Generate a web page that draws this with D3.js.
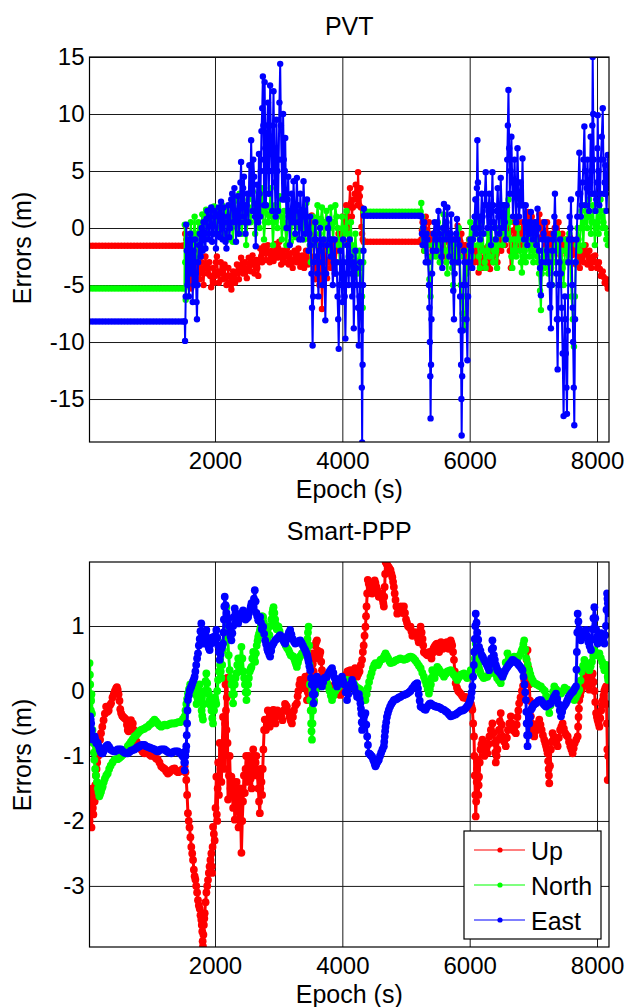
<!DOCTYPE html>
<html>
<head>
<meta charset="utf-8">
<script src="https://cdn.jsdelivr.net/npm/d3@7"></script>
<style>
body { margin: 0; background: #fff; }
text { font-family: "Liberation Sans", Arial, sans-serif; fill: #000; }
.axis text { font-size: 24px; }
.axis .domain { display: none; }
.axis line { stroke: #1a1a1a; stroke-width: 1; }
</style>
</head>
<body>
<div id="chart"></div>
<script>
// ---- data ----
var seriesNames = ["Up", "North", "East"];
var seriesColors = ["#ff0000", "#00ff00", "#0000ff"];

var xTicks = [2000, 4000, 6000, 8000];
var pvtYTicks = [-15, -10, -5, 0, 5, 10, 15];
var pppYTicks = [-3, -2, -1, 0, 1];

// epochs where the PVT solution is held constant
var holdEpochs1 = [29, 79, 129, 179, 229, 279, 329, 379, 429, 479, 529, 579, 629, 679, 729, 779, 829, 879, 929, 979,
    1029, 1079, 1129, 1179, 1229, 1279, 1329, 1379, 1429, 1479, 1520];
var holdEpochs2 = [4340, 4390, 4440, 4490, 4540, 4590, 4640, 4690, 4740, 4790, 4840, 4890, 4940, 4990, 5040, 5090,
    5140, 5190, 5230];

var pvtUpHold = [-1.55, -1.2];
var pvtNorthHold = [-5.3, 1.43];
var pvtEastHold = [-8.2, 1.08];

var pvtUp1 = [[1525,-1.5],[1532,-0.5],[1540,0.2],[1550,-1],[1560,-2],[1570,-3],[1580,-4],[1590,-2.5],[1600,-1.5],[1612,-3.5],[1625,-5.3],[1638,-4],[1650,-2.5],[1662,-1.5],[1675,-0.5],[1688,-2],[1700,-3.5],[1715,-2.5],[1730,-2],[1745,-3.5],[1760,-4.5],[1775,-3.8],[1790,-3],[1805,-4],[1820,-5],[1835,-3.5],[1850,-2.5],[1865,-3.2],[1880,-4],[1895,-3.5],[1910,-3],[1925,-4.2],[1940,-5.2],[1955,-4.2],[1970,-3.5],[1985,-4.8],[2000,-4.2],[2015,-3],[2030,-2.5],[2045,-3.8],[2060,-4.8],[2075,-4],[2090,-3.0],[2105,-3.8],[2120,-4.5],[2135,-3.5],[2150,-3.2],[2165,-4.2],[2180,-5.0],[2195,-4.2],[2210,-3.5],[2225,-4.8],[2240,-4.2],[2250,-5],[2257,-5.4],[2270,-4.5],[2285,-3.8],[2300,-4.2],[2315,-4.8],[2330,-4],[2345,-3.2],[2360,-3.8],[2375,-4.5],[2392,-3.5],[2410,-2.6],[2425,-3.2],[2440,-4.0],[2455,-3.6],[2470,-3.0],[2485,-3.8],[2500,-4.4],[2515,-3.5],[2530,-2.6],[2545,-3.2],[2560,-3.8],[2575,-3],[2590,-2.4],[2605,-3.2],[2620,-4.0],[2635,-3.4],[2650,-2.8],[2665,-3.5],[2680,-4.2],[2695,-3],[2710,-1.8],[2725,-2.5],[2740,-3.0],[2755,-2.2],[2770,-1.6],[2785,-2.2],[2800,-2.8],[2815,-2],[2830,-1.5],[2845,-2.2],[2860,-3.0],[2875,-2.5],[2890,-2.0],[2905,-2.5],[2920,-2.9],[2935,-2.2],[2950,-1.4],[2965,-2],[2980,-2.6],[2995,-1.8],[3010,-1.2],[3025,-2.2],[3040,-3.2],[3055,-2.6],[3070,-2.0],[3085,-2.5],[3100,-3.0],[3115,-2.4],[3130,-1.8],[3145,-2.5],[3160,-3.2],[3175,-2.7],[3190,-2.2],[3205,-2.8],[3220,-3.5],[3235,-2.8],[3250,-2.0],[3265,-2.5],[3280,-3.0],[3295,-2.4],[3310,-1.8],[3325,-2.6],[3340,-3.4],[3355,-2.9],[3370,-2.4],[3385,-3],[3400,-3.5],[3415,-2.8],[3430,-2.0],[3445,-2.6],[3460,-3.2],[3475,-2],[3490,-1],[3505,0],[3520,1.1],[3535,-0.5],[3550,-2.5],[3565,-3.5],[3580,-4.5],[3595,-3],[3610,-1.5],[3625,-3],[3640,-5],[3650,-3.5],[3660,-2],[3670,-4.5],[3680,-7.1],[3692,-5],[3705,-3],[3718,-2],[3730,-1.2],[3745,-2.8],[3760,-4.4],[3775,-3],[3790,-2],[3805,-2.8],[3820,-3.5],[3835,-2.3],[3850,-1.2],[3865,-2.5],[3880,-4],[3895,-3],[3910,-2],[3925,-1.2],[3940,-0.5],[3955,-1.2],[3970,-2],[3985,-0.5],[4000,1.0],[4015,0],[4030,-1.2],[4045,0.5],[4060,2.0],[4075,1],[4090,0],[4105,1.8],[4120,3.5],[4135,2.2],[4150,1.0],[4165,1.8],[4180,2.5],[4195,3],[4210,3.8],[4222,3],[4235,2],[4241,3.5],[4247,4.9],[4256,3.5],[4265,2],[4275,2.8],[4285,3.5],[4292,1.8],[4300,0.1],[4310,-0.5],[4320,-1],[4335,-1.2]];
var pvtUp2 = [[5240,-1.0],[5250,-0.2],[5260,0.5],[5272,-0.8],[5285,-2],[5298,-0.5],[5310,1.0],[5322,-0.2],[5335,-1.5],[5348,-0.5],[5360,0.5],[5375,-1],[5390,-2.5],[5405,-1.5],[5420,-0.5],[5435,-1.2],[5450,-2.0],[5465,-1],[5480,0],[5495,-0.8],[5510,-1.5],[5525,-2.2],[5540,-3],[5555,-2],[5570,-1],[5585,-1.8],[5600,-2.5],[5615,-1.2],[5630,0],[5645,-1],[5660,-2],[5675,-1.2],[5690,-0.5],[5705,-1.5],[5720,-2.5],[5735,-1.8],[5750,-1],[5765,-2],[5780,-3],[5795,-1.4],[5810,0.2],[5825,-0.9],[5840,-2],[5855,-1.2],[5870,-0.5],[5885,-1.5],[5900,-2.5],[5915,-2],[5930,-1.5],[5945,-2.5],[5960,-3.5],[5975,-2.2],[5990,-1],[6005,-1.8],[6020,-2.5],[6035,-1.8],[6050,-1.0],[6065,-2],[6080,-3.0],[6095,-2.3],[6110,-1.6],[6125,-2.8],[6140,-3.9],[6155,-3],[6170,-2.0],[6185,-2.8],[6200,-3.5],[6215,-2.6],[6230,-1.8],[6245,-2.5],[6260,-3.2],[6275,-2.4],[6290,-1.6],[6305,-2.6],[6320,-3.6],[6335,-2.8],[6350,-2.0],[6365,-2.5],[6380,-3.0],[6395,-2.3],[6410,-1.6],[6423,-2.3],[6436,-3.0],[6450,-1.5],[6465,0],[6480,-1],[6495,-2],[6510,-0.5],[6525,1.0],[6540,-0.2],[6555,-1.5],[6570,0.2],[6585,1.8],[6600,0.6],[6615,-0.5],[6630,-2],[6645,-3.5],[6660,-2.2],[6675,-1],[6690,-0.2],[6705,0.5],[6720,-0.8],[6735,-2],[6750,-0.5],[6765,1],[6780,-0.2],[6795,-1.5],[6810,-0.5],[6825,0.5],[6840,-1],[6855,-2.5],[6870,-1.5],[6885,-0.5],[6900,0.5],[6915,1.4],[6930,0.5],[6945,-0.5],[6960,0.2],[6975,1.0],[6990,-0.1],[7005,-1.2],[7020,-0.3],[7035,0.5],[7050,-0.2],[7065,-1],[7080,0.1],[7095,1.2],[7110,0.2],[7125,-0.8],[7140,-0.1],[7155,0.5],[7170,-0.5],[7185,-1.5],[7200,-0.5],[7215,0.5],[7230,-1],[7245,-2.4],[7260,-1.5],[7275,-0.5],[7290,-1.2],[7305,-2],[7320,-1],[7335,0],[7350,-0.9],[7365,-1.8],[7380,-0.6],[7395,0.5],[7410,-1],[7425,-2.4],[7440,-1.5],[7455,-0.5],[7470,-1.2],[7485,-2],[7500,-1.5],[7515,-1],[7530,-1.6],[7545,-2.2],[7560,-1.5],[7575,-0.8],[7590,-1.6],[7605,-2.4],[7622,-1.8],[7640,-1.2],[7655,-2.2],[7670,-3.2],[7685,-2.3],[7700,-1.5],[7715,-2.5],[7730,-3.5],[7745,-2.6],[7760,-1.8],[7775,-2.4],[7790,-3],[7805,-2.2],[7820,-1.5],[7835,-2.3],[7850,-3.2],[7865,-2.6],[7880,-2],[7895,-2.8],[7910,-3.5],[7925,-3],[7940,-2.5],[7955,-3],[7970,-2.4],[7985,-3],[8000,-3.5],[8015,-3.2],[8030,-3.0],[8045,-3.6],[8060,-4.2],[8075,-4],[8090,-3.8],[8105,-4.3],[8120,-4.8],[8135,-4.6],[8150,-4.5],[8160,-5],[8170,-5.3]];

var pvtNorth1 = [[1525,0.3],[1533,-3],[1540,-6.3],[1550,-3],[1560,-1],[1575,-2.5],[1590,-4],[1605,-1.5],[1620,0.5],[1635,-1],[1650,-3],[1665,-0.5],[1680,1.0],[1695,-1],[1710,-2.5],[1725,-0.5],[1740,0.5],[1755,-0.5],[1770,-1.5],[1785,0],[1800,1.2],[1815,0.5],[1830,-0.5],[1845,0.5],[1860,1.6],[1875,0.8],[1890,-0.5],[1905,0.5],[1920,1.5],[1935,1.0],[1950,0.2],[1968,1.2],[1985,1.9],[2000,0.5],[2015,-0.5],[2030,0.8],[2045,1.7],[2062,0.8],[2080,0],[2095,1.2],[2110,2.0],[2125,0.8],[2140,-0.5],[2158,0.5],[2175,1.5],[2192,0.5],[2210,-1],[2228,0.8],[2245,2.0],[2262,0.5],[2280,-1.2],[2298,1],[2315,2.4],[2332,1.2],[2350,0],[2368,1.5],[2385,3.0],[2402,1.5],[2420,-0.5],[2438,0.8],[2455,2.0],[2472,0.5],[2490,-1.5],[2508,0.5],[2525,2.5],[2542,1.5],[2560,0.5],[2578,1.8],[2595,3.2],[2612,1.5],[2630,-0.5],[2648,0.8],[2665,2],[2682,1],[2700,0],[2718,1.5],[2735,3.5],[2752,1.5],[2770,-1],[2788,0.5],[2805,2],[2822,1.2],[2840,0.5],[2858,1.8],[2875,3.5],[2892,1],[2910,-1.5],[2928,0.5],[2945,2],[2962,1],[2980,0],[2998,1.2],[3015,2.8],[3032,1],[3050,-1.0],[3068,0.5],[3085,1.5],[3102,0],[3120,-1.5],[3138,0],[3155,1],[3172,0],[3190,-1.2],[3208,0.5],[3225,1.5],[3242,0.5],[3260,-0.8],[3278,0.5],[3295,2],[3312,1],[3330,0],[3348,0.8],[3365,1.5],[3382,0.5],[3400,-1],[3418,0.8],[3435,2.2],[3452,1],[3470,0],[3488,-1.5],[3505,-3],[3522,-1],[3540,1],[3558,0],[3575,-1.5],[3592,0.5],[3610,2.0],[3628,0.8],[3645,-0.5],[3662,0.8],[3680,1.8],[3698,0.5],[3715,-1],[3732,0.5],[3750,1.5],[3768,0],[3785,-2],[3802,0],[3820,1.8],[3838,0.5],[3855,-1],[3872,0.5],[3890,2],[3908,1],[3925,0],[3942,-1.5],[3960,-3],[3978,-1],[3995,1],[4012,0],[4030,-1.5],[4048,0],[4065,1.5],[4082,-0.5],[4100,-2.5],[4118,-1],[4135,0.5],[4152,-1.5],[4170,-3.5],[4188,-2],[4205,-0.5],[4222,-2],[4240,-4],[4255,-3],[4270,-2],[4285,-3.5],[4300,-5],[4310,-6],[4320,-7],[4328,-3],[4335,1.4]];
var pvtNorth2 = [[5240,2.2],[5252,1],[5265,0],[5278,-1],[5290,-2],[5305,-1],[5320,-0.5],[5335,-1.5],[5350,-3],[5368,-4.5],[5385,-6],[5398,-4],[5410,-2.5],[5425,-1.5],[5440,-0.5],[5455,-1.5],[5470,-2.5],[5485,-1],[5500,0.5],[5515,-1.5],[5530,-3],[5545,-2],[5560,-1],[5575,0],[5590,1.2],[5605,-0.5],[5620,-2],[5635,-3],[5650,-4],[5665,-2],[5680,-0.5],[5695,-1.5],[5710,-2.5],[5725,-3.5],[5740,-5],[5755,-3],[5770,-1.5],[5785,-2],[5800,-3],[5815,-1.5],[5830,0],[5845,-2.5],[5860,-5],[5875,-6],[5890,-7.5],[5905,-8],[5921,-8.9],[5935,-6],[5950,-4],[5965,-3],[5980,-2],[5995,-1],[6010,0.5],[6025,-1],[6040,-2.5],[6055,-1.5],[6070,-0.5],[6085,1],[6100,2.5],[6115,0.5],[6130,-1.5],[6145,-2.5],[6160,-3.5],[6175,-1.5],[6190,0.5],[6205,-0.5],[6220,-2],[6235,-3],[6250,-3.5],[6265,-2],[6280,-0.5],[6295,-1.5],[6310,-2.5],[6325,-1],[6340,0.5],[6355,-1.5],[6370,-3],[6385,-2],[6400,-1],[6415,-2],[6430,-3.5],[6445,-1.5],[6460,0],[6475,1],[6490,1.5],[6505,0],[6520,-1.5],[6535,0.5],[6550,2.0],[6565,0.5],[6580,-0.5],[6595,1],[6610,2.5],[6625,0.5],[6640,-1],[6655,-2.5],[6670,-3.5],[6685,-2],[6700,-1],[6715,-2],[6730,-2.5],[6745,-1],[6760,0],[6775,-1],[6790,-2],[6805,-3],[6820,-3.9],[6835,-2.5],[6850,-1],[6865,-2],[6880,-3],[6895,-1.5],[6910,-0.5],[6925,-1.5],[6940,-2.5],[6955,-1.5],[6970,-1],[6985,-2],[7000,-3],[7015,-2],[7030,-1],[7045,-1.5],[7060,-2.5],[7075,-3],[7090,-4],[7105,-5.5],[7119,-7.2],[7132,-4],[7145,-2],[7160,-2.5],[7175,-3.5],[7190,-2],[7205,-1],[7220,-2.5],[7235,-4],[7250,-3],[7265,-2],[7280,-3.5],[7295,-5],[7310,-3],[7325,-1],[7340,-2],[7355,-3],[7370,-1.5],[7385,-0.5],[7400,-2],[7415,-4],[7430,-3],[7445,-2],[7460,-3.5],[7475,-5],[7490,-3],[7505,-1],[7520,-2],[7535,-3],[7550,-1.5],[7565,-0.5],[7582,-3],[7600,-6],[7620,-8],[7638,-10.4],[7652,-6],[7665,-3],[7680,-1.5],[7695,0],[7710,-1],[7725,-2],[7740,0],[7755,1.5],[7770,0],[7785,-1.5],[7800,0.5],[7815,2],[7830,1],[7845,0],[7860,1],[7875,2.5],[7890,1],[7905,-0.5],[7920,0.5],[7935,2],[7950,0.5],[7965,-1.5],[7980,0],[7995,1.5],[8010,0.5],[8025,-0.5],[8040,1],[8055,2.5],[8070,1],[8085,0],[8100,0.5],[8115,1.5],[8130,0],[8145,-1],[8158,-0.5],[8170,-1.5]];

var pvtEast1 = [[1525,-8.2],[1530,-9.9],[1540,-6],[1548,0.3],[1558,-2],[1568,-5],[1578,-1],[1590,-6],[1600,-3],[1612,-0.5],[1625,-4],[1638,-1],[1650,-6.5],[1662,-2],[1675,-5],[1688,-1],[1700,-4],[1710,-6.5],[1717,-8.0],[1726,-5],[1735,-3],[1748,-1.5],[1760,-0.5],[1775,-2.5],[1790,0],[1805,-2],[1820,0.5],[1835,-1],[1850,-1.8],[1865,0.8],[1880,1.5],[1895,-0.5],[1910,-1],[1925,1],[1940,1.8],[1955,-1.2],[1970,-0.5],[1985,1.5],[2000,1.0],[2015,-1.8],[2030,-0.5],[2045,1.2],[2060,1.8],[2078,-0.8],[2095,2.3],[2108,0],[2120,-1.0],[2135,1.8],[2150,0.5],[2165,-1.2],[2180,-1.8],[2195,1],[2210,2.0],[2225,-0.8],[2240,0],[2255,2.5],[2270,3.0],[2288,0.5],[2305,3.5],[2318,1],[2330,-1.2],[2345,1.5],[2360,2.8],[2375,-0.5],[2390,0.5],[2400,4],[2410,5.8],[2420,2],[2430,1],[2442,3.5],[2455,4.5],[2468,0.5],[2480,-0.5],[2495,2],[2510,3],[2525,0.5],[2540,5.5],[2555,3],[2568,7.7],[2580,4],[2590,1.5],[2602,6],[2615,4.5],[2628,1],[2640,-1.6],[2652,2],[2665,3.8],[2678,0.5],[2690,6.5],[2700,3],[2710,1],[2720,5],[2730,8.5],[2742,10.5],[2752,13.3],[2760,9],[2765,6],[2772,2],[2780,12.8],[2790,7],[2800,2],[2810,5],[2820,9],[2832,11],[2845,3],[2855,7],[2866,12.5],[2878,8],[2890,5],[2900,1.5],[2910,9],[2919,12],[2930,7],[2940,4],[2952,1],[2965,9.5],[2978,5],[2990,1.5],[3000,6],[3012,11],[3024,14.4],[3035,9],[3045,6],[3058,2.5],[3070,10],[3080,6],[3090,2.5],[3097,5],[3103,7.9],[3114,3],[3125,0],[3138,2.5],[3150,4.5],[3162,1],[3175,-1.5],[3190,1.5],[3205,3],[3220,0.5],[3234,4.1],[3248,1.5],[3260,-0.5],[3273,2],[3286,4.4],[3298,2],[3310,0.5],[3325,-1],[3340,3],[3352,1.5],[3365,-1],[3378,1],[3391,4.1],[3405,1.5],[3420,-0.5],[3432,1],[3445,2.5],[3458,0],[3470,-2],[3482,-0.5],[3495,1],[3505,-1.5],[3515,-4],[3524,-7],[3533,-10.3],[3542,-6],[3550,-3],[3562,-1],[3575,0.5],[3588,-1],[3600,-2.5],[3612,-4],[3625,-6],[3638,-2],[3650,0],[3665,-1.5],[3680,-3],[3692,-5],[3705,-1],[3720,-4],[3733,-8.1],[3746,-4],[3760,-1.5],[3775,0],[3790,0.8],[3805,-1],[3820,-2.5],[3835,-1],[3850,-5],[3865,-3],[3880,-1],[3895,-4],[3910,-3],[3925,-6],[3935,-8],[3943,-10.6],[3955,-5],[3970,-2],[3985,-4],[4000,-6.5],[4012,-1],[4025,-3],[4037,-6],[4048,-9.7],[4062,-4],[4075,-1.5],[4088,-3],[4100,-5],[4115,-1],[4130,-2.5],[4142,-4],[4155,-6],[4168,-3],[4180,-8.8],[4192,-5],[4205,-2],[4218,-3.5],[4230,-5],[4245,-7],[4259,-10.3],[4270,-6],[4280,-3],[4290,-6],[4300,-9],[4306,-14],[4311,-18.8],[4318,-12],[4325,-5],[4332,-2],[4338,1.7]];
var pvtEast2 = [[5240,1.0],[5250,-0.5],[5260,-1.5],[5272,0],[5285,0.5],[5298,-1.5],[5310,-3],[5322,-0.5],[5335,-1],[5348,-3],[5360,-5],[5368,-7],[5375,-10],[5381,-13],[5386,-16.7],[5393,-12],[5400,-8],[5410,-4],[5420,-2],[5435,-0.5],[5450,0.5],[5465,-1],[5480,-2],[5495,0],[5510,1.5],[5525,-0.5],[5540,-1],[5555,-2.5],[5570,-3.5],[5583,0],[5596,2.1],[5608,0],[5620,-1],[5635,0.5],[5650,1.8],[5665,-0.5],[5680,-2.5],[5695,-0.5],[5710,1.2],[5720,-1],[5730,-3],[5742,-5.5],[5753,-8.0],[5764,-4],[5775,-1],[5788,-0.5],[5800,0.8],[5812,-1],[5825,-3],[5838,-1.5],[5850,-6],[5858,-9],[5865,-12],[5870,-15],[5874,-18.2],[5882,-13],[5890,-9],[5900,-5],[5910,-2],[5922,-3],[5935,-5],[5950,-8],[5964,-11.6],[5975,-6],[5985,-3],[5998,-1.5],[6010,-1],[6025,-2],[6040,-3.5],[6052,-1],[6065,0],[6078,1],[6090,2.5],[6098,1],[6105,-0.5],[6113,3.5],[6121,7.7],[6130,4],[6140,1],[6152,0],[6165,-1],[6178,1],[6190,3],[6202,1],[6215,-0.5],[6232,2],[6252,4.9],[6265,2],[6280,0],[6295,1.5],[6310,3],[6322,0.5],[6335,-1.5],[6346,2],[6357,4.9],[6368,2],[6380,0.5],[6395,0],[6410,-1],[6425,1.5],[6440,3.5],[6452,1],[6465,-0.5],[6476,2],[6488,4.4],[6500,2],[6510,0],[6525,1],[6540,2],[6552,0.5],[6565,-1],[6578,2],[6590,6],[6600,9],[6609,12.1],[6620,7],[6630,3],[6642,5],[6655,8],[6668,4],[6680,1],[6692,3],[6705,6],[6718,3],[6730,0.5],[6740,3],[6751,7.0],[6762,4],[6775,1],[6788,2],[6800,4],[6815,2],[6830,6.1],[6842,2],[6855,-1],[6868,0.5],[6880,2],[6892,0],[6905,-1.5],[6920,-0.5],[6935,0.5],[6948,-0.5],[6961,1.4],[6975,0],[6990,-1],[7005,0],[7020,0.5],[7032,-0.5],[7045,-1.5],[7055,0],[7066,1.7],[7078,0],[7090,-2],[7105,-3.5],[7119,-5.9],[7132,-3],[7145,-1],[7160,-0.5],[7175,0.5],[7188,-1],[7200,-3],[7215,-2],[7230,-1],[7242,-3],[7255,-5],[7266,-7],[7276,-8.8],[7288,-5],[7300,-2],[7310,-1],[7320,-0.5],[7330,1],[7339,3.0],[7350,0],[7360,-4],[7370,-8],[7381,-12.4],[7390,-8],[7400,-5],[7410,-3],[7420,-1],[7432,-4],[7445,-7],[7460,-11],[7475,-16.5],[7485,-11],[7495,-6],[7502,-8],[7510,-11],[7520,-14],[7528,-16.3],[7540,-9],[7550,-3],[7560,-1],[7570,1],[7580,0],[7591,2.5],[7600,-1],[7610,-5],[7618,-7],[7625,-10],[7635,-14],[7643,-17.3],[7655,-8],[7665,-3],[7678,-1],[7690,1],[7705,3],[7722,6.6],[7735,3],[7745,1],[7760,2],[7775,4],[7788,6],[7801,8.9],[7812,5],[7825,2],[7838,3.5],[7850,6],[7862,3.5],[7875,1.5],[7888,4],[7900,8],[7910,5],[7920,3],[7926,9],[7932,15],[7940,10],[7950,6],[7962,3],[7975,1.5],[7988,2.5],[8000,4],[8006,7],[8011,9.9],[8022,5],[8035,2],[8048,3],[8060,6],[8075,8],[8090,10.5],[8100,6],[8110,3],[8120,4],[8130,5.5],[8140,3],[8150,1.5],[8160,3.5],[8168,6.4],[8175,4]];

var pppUp = [[30,-2.0],[38,-1.8],[45,-1.6],[52,-1.9],[60,-2.1],[68,-1.7],[75,-1.5],[82,-1.8],[90,-1.9],[100,-1.6],[110,-1.7],[120,-1.45],[130,-1.3],[140,-1.2],[150,-1.1],[165,-1.0],[180,-0.9],[195,-0.75],[210,-0.65],[230,-0.55],[250,-0.45],[270,-0.35],[290,-0.24],[310,-0.32],[330,-0.3],[350,-0.22],[368,-0.19],[390,-0.1],[410,-0.05],[428,0.0],[446,0.04],[460,0.06],[472,0.02],[486,-0.05],[500,-0.15],[512,-0.28],[525,-0.34],[542,-0.38],[560,-0.4],[582,-0.42],[604,-0.44],[617,-0.52],[630,-0.6],[643,-0.62],[656,-0.57],[668,-0.48],[680,-0.45],[695,-0.52],[709,-0.5],[730,-0.6],[750,-0.7],[770,-0.78],[788,-0.85],[815,-0.88],[840,-0.9],[866,-0.94],[893,-0.96],[920,-0.92],[950,-0.95],[975,-0.98],[1000,-1.0],[1025,-0.98],[1050,-1.01],[1075,-1.04],[1100,-1.05],[1128,-1.1],[1155,-1.16],[1182,-1.18],[1210,-1.2],[1235,-1.24],[1260,-1.27],[1285,-1.25],[1310,-1.22],[1338,-1.2],[1365,-1.19],[1392,-1.23],[1420,-1.25],[1445,-1.24],[1470,-1.22],[1497,-1.2],[1523,-1.16],[1536,-1.25],[1549,-1.37],[1562,-1.6],[1575,-1.88],[1588,-2.0],[1600,-2.1],[1614,-2.25],[1628,-2.4],[1642,-2.5],[1655,-2.6],[1668,-2.75],[1680,-2.85],[1692,-2.9],[1705,-3.0],[1719,-3.1],[1733,-3.22],[1746,-3.3],[1760,-3.35],[1772,-3.45],[1785,-3.52],[1792,-3.6],[1800,-3.7],[1806,-3.85],[1811,-3.93],[1818,-3.75],[1825,-3.6],[1832,-3.5],[1838,-3.42],[1852,-3.25],[1865,-3.1],[1878,-3.0],[1890,-2.91],[1903,-2.8],[1915,-2.7],[1929,-2.6],[1943,-2.5],[1949,-2.7],[1955,-2.8],[1962,-2.4],[1969,-2.09],[1982,-2.2],[1995,-2.3],[2008,-1.8],[2021,-1.32],[2028,-1.9],[2035,-2.0],[2042,-1.5],[2050,-1.1],[2062,-1.6],[2074,-0.8],[2087,-1.2],[2100,-1.4],[2113,-0.9],[2126,-0.4],[2138,-0.8],[2150,-1.2],[2158,-0.5],[2165,0.1],[2172,-0.3],[2180,-0.6],[2185,-0.1],[2190,0.2],[2197,-0.8],[2205,-1.67],[2218,-1.3],[2230,-1.0],[2244,-1.5],[2258,-1.32],[2272,-1.6],[2285,-1.8],[2298,-1.4],[2310,-1.98],[2325,-1.6],[2340,-1.4],[2355,-1.8],[2370,-2.1],[2382,-1.7],[2395,-1.5],[2405,-2.0],[2415,-2.49],[2428,-2.0],[2440,-1.7],[2454,-1.3],[2468,-1.57],[2480,-1.2],[2490,-1.0],[2505,-1.3],[2520,-1.4],[2533,-1.0],[2546,-1.16],[2560,-1.35],[2575,-1.5],[2588,-1.1],[2600,-0.9],[2612,-1.2],[2625,-1.3],[2638,-1.1],[2650,-1.0],[2665,-1.3],[2680,-1.5],[2692,-1.7],[2704,-1.88],[2712,-1.5],[2720,-1.2],[2730,-1.4],[2740,-1.6],[2750,-1.2],[2760,-0.9],[2771,-0.6],[2782,-0.44],[2800,-0.6],[2815,-0.45],[2830,-0.3],[2845,-0.45],[2860,-0.55],[2875,-0.42],[2890,-0.35],[2905,-0.3],[2919,-0.29],[2935,-0.42],[2950,-0.5],[2965,-0.38],[2980,-0.3],[3002,-0.36],[3024,-0.34],[3042,-0.4],[3060,-0.45],[3080,-0.3],[3100,-0.2],[3115,-0.22],[3129,-0.24],[3150,-0.32],[3170,-0.4],[3190,-0.46],[3208,-0.5],[3224,-0.4],[3240,-0.3],[3263,-0.22],[3286,-0.19],[3298,-0.08],[3310,0.0],[3325,0.1],[3339,0.17],[3360,0.1],[3380,0.05],[3400,0.15],[3418,0.22],[3431,0.05],[3444,-0.14],[3457,-0.02],[3470,0.1],[3485,0.25],[3500,0.4],[3512,0.5],[3523,0.58],[3536,0.42],[3550,0.3],[3562,0.5],[3575,0.7],[3588,0.75],[3601,0.78],[3615,0.62],[3630,0.5],[3642,0.55],[3655,0.6],[3668,0.45],[3680,0.32],[3700,0.25],[3720,0.2],[3740,0.15],[3759,0.12],[3780,0.08],[3800,0.05],[3820,0.02],[3840,0.0],[3860,0.05],[3880,0.1],[3898,0.03],[3917,-0.04],[3943,-0.05],[3969,-0.06],[3985,0.02],[4000,0.1],[4020,0.15],[4040,0.2],[4060,0.25],[4080,0.3],[4103,0.31],[4127,0.32],[4148,0.28],[4170,0.25],[4185,0.3],[4200,0.35],[4215,0.28],[4231,0.22],[4250,0.26],[4270,0.3],[4290,0.4],[4310,0.48],[4322,0.6],[4335,0.7],[4349,0.85],[4363,0.99],[4372,1.15],[4380,1.3],[4390,1.5],[4400,1.71],[4415,1.65],[4430,1.6],[4449,1.55],[4468,1.5],[4482,1.58],[4495,1.65],[4508,1.7],[4520,1.66],[4535,1.6],[4550,1.55],[4562,1.5],[4573,1.45],[4592,1.48],[4610,1.5],[4622,1.45],[4635,1.4],[4644,1.35],[4652,1.3],[4658,1.45],[4665,1.6],[4672,1.8],[4678,1.99],[4689,1.97],[4700,1.95],[4715,1.92],[4730,1.9],[4744,1.88],[4757,1.86],[4771,1.8],[4785,1.75],[4797,1.68],[4809,1.6],[4822,1.5],[4835,1.4],[4849,1.3],[4862,1.19],[4876,1.22],[4890,1.25],[4905,1.28],[4920,1.3],[4933,1.25],[4945,1.2],[4956,1.25],[4967,1.3],[4984,1.2],[5000,1.1],[5015,1.05],[5030,1.0],[5050,0.98],[5071,0.99],[5085,0.92],[5100,0.85],[5120,0.88],[5140,0.9],[5158,0.9],[5176,0.89],[5188,0.8],[5200,0.75],[5215,0.88],[5229,0.99],[5245,0.9],[5260,0.8],[5270,0.7],[5280,0.6],[5294,0.59],[5308,0.58],[5324,0.56],[5340,0.55],[5355,0.58],[5370,0.6],[5385,0.55],[5400,0.5],[5415,0.58],[5430,0.65],[5445,0.68],[5460,0.7],[5476,0.72],[5491,0.73],[5505,0.66],[5520,0.6],[5535,0.68],[5550,0.75],[5565,0.7],[5580,0.65],[5595,0.68],[5610,0.7],[5625,0.72],[5640,0.75],[5655,0.7],[5670,0.65],[5686,0.72],[5701,0.78],[5713,0.74],[5725,0.7],[5739,0.6],[5753,0.48],[5766,0.3],[5780,0.12],[5800,0.05],[5820,0.0],[5839,-0.02],[5858,-0.04],[5879,-0.07],[5900,-0.1],[5918,-0.1],[5937,-0.09],[5963,-0.12],[5990,-0.14],[6005,-0.17],[6020,-0.2],[6031,-0.25],[6042,-0.29],[6055,-0.5],[6068,-0.7],[6074,-1.0],[6080,-1.3],[6088,-1.6],[6095,-1.93],[6102,-1.7],[6110,-1.4],[6115,-1.2],[6121,-1.06],[6128,-1.35],[6135,-1.6],[6141,-1.45],[6147,-1.32],[6158,-1.1],[6170,-0.9],[6185,-0.82],[6200,-0.75],[6215,-0.88],[6230,-1.0],[6240,-0.9],[6250,-0.8],[6264,-0.88],[6278,-0.96],[6294,-0.82],[6310,-0.7],[6333,-0.6],[6357,-0.5],[6374,-0.65],[6390,-0.8],[6400,-0.95],[6410,-1.1],[6423,-1.0],[6436,-0.9],[6448,-0.75],[6460,-0.6],[6474,-0.47],[6488,-0.34],[6504,-0.52],[6520,-0.7],[6543,-0.78],[6567,-0.85],[6584,-0.72],[6600,-0.6],[6623,-0.5],[6646,-0.39],[6663,-0.5],[6680,-0.6],[6702,-0.62],[6725,-0.65],[6738,-0.52],[6750,-0.4],[6764,-0.3],[6777,-0.19],[6799,-0.1],[6820,0.0],[6838,0.08],[6856,0.17],[6868,0.24],[6880,0.3],[6895,0.48],[6909,0.63],[6922,0.35],[6935,0.1],[6948,-0.15],[6961,-0.39],[6976,-0.5],[6990,-0.6],[7002,-0.65],[7014,-0.7],[7032,-0.62],[7050,-0.55],[7072,-0.5],[7093,-0.44],[7112,-0.52],[7130,-0.6],[7150,-0.68],[7171,-0.75],[7186,-0.8],[7200,-0.85],[7212,-0.9],[7224,-0.96],[7232,-1.08],[7240,-1.2],[7245,-1.3],[7250,-1.42],[7262,-1.15],[7275,-0.9],[7288,-0.78],[7302,-0.65],[7321,-0.7],[7340,-0.75],[7360,-0.8],[7381,-0.85],[7400,-0.72],[7420,-0.6],[7440,-0.55],[7460,-0.5],[7480,-0.58],[7500,-0.65],[7520,-0.68],[7539,-0.7],[7560,-0.78],[7580,-0.85],[7598,-0.9],[7617,-0.96],[7633,-0.88],[7650,-0.8],[7673,-0.75],[7696,-0.7],[7703,-0.55],[7710,-0.4],[7716,-0.27],[7722,-0.14],[7736,-0.07],[7750,0.0],[7762,0.04],[7775,0.07],[7788,0.14],[7800,0.2],[7814,0.26],[7827,0.32],[7841,0.24],[7855,0.15],[7868,0.08],[7880,0.02],[7893,0.11],[7905,0.2],[7918,0.24],[7932,0.27],[7946,0.14],[7960,0.0],[7972,-0.17],[7985,-0.34],[7998,-0.4],[8010,-0.45],[8024,-0.5],[8037,-0.55],[8051,-0.42],[8065,-0.3],[8078,-0.22],[8090,-0.14],[8102,-0.07],[8115,0.0],[8128,0.04],[8142,0.07],[8149,-0.2],[8155,-0.5],[8162,-0.9],[8168,-1.37],[8175,-1.0]];

var pppNorth = [[30,0.43],[35,0.25],[40,0.1],[45,-0.1],[50,-0.3],[55,-0.15],[60,-0.05],[68,-0.35],[75,-0.6],[82,-0.7],[90,-0.8],[98,-0.95],[105,-1.06],[118,-1.2],[130,-1.3],[145,-1.4],[160,-1.5],[172,-1.56],[184,-1.62],[197,-1.58],[210,-1.55],[223,-1.5],[236,-1.47],[253,-1.4],[270,-1.35],[292,-1.3],[315,-1.27],[338,-1.2],[360,-1.15],[390,-1.1],[420,-1.06],[445,-1.05],[470,-1.05],[498,-1.03],[525,-1.01],[552,-0.98],[580,-0.95],[605,-0.9],[630,-0.85],[655,-0.82],[680,-0.78],[708,-0.74],[735,-0.7],[762,-0.68],[790,-0.65],[815,-0.62],[840,-0.6],[865,-0.59],[890,-0.58],[918,-0.56],[945,-0.55],[972,-0.52],[1000,-0.5],[1025,-0.47],[1050,-0.44],[1075,-0.47],[1100,-0.5],[1128,-0.53],[1155,-0.55],[1182,-0.53],[1210,-0.52],[1235,-0.53],[1260,-0.52],[1285,-0.51],[1310,-0.5],[1338,-0.5],[1365,-0.5],[1392,-0.49],[1420,-0.48],[1445,-0.48],[1470,-0.47],[1497,-0.43],[1523,-0.39],[1537,-0.3],[1550,-0.2],[1562,-0.12],[1575,-0.04],[1592,0.03],[1610,0.1],[1628,0.05],[1645,0.0],[1662,0.1],[1680,0.07],[1695,-0.05],[1710,-0.2],[1722,-0.1],[1733,-0.14],[1746,0.0],[1760,0.1],[1775,-0.1],[1790,-0.3],[1800,-0.38],[1811,-0.44],[1825,-0.2],[1840,0.0],[1852,0.15],[1864,0.27],[1877,0.12],[1890,0.0],[1903,-0.05],[1916,-0.14],[1930,-0.22],[1945,-0.3],[1957,-0.42],[1969,-0.5],[1985,-0.3],[2000,-0.1],[2010,-0.15],[2020,-0.2],[2034,0.0],[2048,0.17],[2064,0.3],[2080,0.4],[2090,0.3],[2100,0.2],[2113,0.4],[2126,0.63],[2138,0.75],[2150,0.9],[2165,1.1],[2179,1.29],[2190,1.0],[2200,0.8],[2215,0.55],[2231,0.32],[2245,0.2],[2260,0.1],[2272,-0.05],[2284,-0.19],[2297,-0.05],[2310,0.1],[2323,0.2],[2336,0.27],[2350,0.4],[2365,0.5],[2378,0.4],[2390,0.3],[2402,0.5],[2415,0.68],[2430,0.5],[2445,0.3],[2458,0.2],[2470,0.1],[2482,-0.02],[2494,-0.14],[2507,-0.02],[2520,0.1],[2532,0.2],[2545,0.3],[2559,0.34],[2573,0.37],[2586,0.5],[2600,0.6],[2615,0.52],[2630,0.45],[2642,0.58],[2655,0.7],[2667,0.77],[2678,0.83],[2690,0.87],[2700,0.9],[2710,0.95],[2720,1.0],[2730,1.08],[2740,1.15],[2748,1.12],[2756,1.14],[2768,1.05],[2780,0.99],[2790,0.92],[2800,0.85],[2810,0.82],[2820,0.8],[2830,0.76],[2840,0.73],[2855,0.86],[2870,1.0],[2885,1.1],[2900,1.2],[2910,1.25],[2919,1.29],[2932,1.2],[2945,1.1],[2958,1.02],[2970,0.95],[2985,0.97],[2998,0.99],[3014,0.92],[3030,0.85],[3045,0.82],[3060,0.8],[3069,0.79],[3077,0.78],[3094,0.74],[3110,0.7],[3132,0.66],[3155,0.63],[3172,0.59],[3190,0.55],[3212,0.54],[3234,0.53],[3247,0.49],[3260,0.45],[3273,0.41],[3286,0.37],[3303,0.44],[3320,0.5],[3342,0.54],[3365,0.58],[3382,0.59],[3400,0.6],[3422,0.64],[3444,0.68],[3452,0.8],[3460,0.9],[3470,0.99],[3478,0.7],[3485,0.4],[3490,0.1],[3496,-0.14],[3503,-0.3],[3510,-0.5],[3516,-0.62],[3523,-0.75],[3531,-0.5],[3540,-0.3],[3558,-0.15],[3575,-0.04],[3592,0.03],[3610,0.1],[3632,0.08],[3654,0.07],[3677,0.11],[3700,0.15],[3730,0.14],[3759,0.12],[3780,0.06],[3800,0.0],[3819,-0.07],[3838,-0.14],[3864,-0.07],[3890,0.0],[3917,0.04],[3943,0.07],[3972,0.1],[4000,0.12],[4037,0.15],[4074,0.17],[4097,0.13],[4120,0.1],[4150,0.11],[4179,0.12],[4205,0.08],[4230,0.05],[4257,0.04],[4284,0.02],[4302,-0.02],[4320,-0.05],[4342,-0.1],[4363,-0.14],[4382,-0.05],[4400,0.05],[4420,0.14],[4441,0.22],[4460,0.28],[4480,0.35],[4500,0.4],[4520,0.43],[4540,0.42],[4560,0.4],[4580,0.44],[4599,0.48],[4620,0.49],[4640,0.5],[4659,0.54],[4678,0.58],[4699,0.54],[4720,0.5],[4738,0.46],[4757,0.43],[4784,0.44],[4810,0.45],[4836,0.47],[4862,0.48],[4886,0.49],[4910,0.5],[4938,0.49],[4967,0.48],[4993,0.49],[5020,0.5],[5045,0.52],[5071,0.53],[5096,0.52],[5120,0.5],[5148,0.47],[5176,0.43],[5203,0.39],[5230,0.35],[5256,0.28],[5281,0.22],[5300,0.16],[5320,0.1],[5340,0.03],[5360,-0.04],[5375,0.03],[5390,0.1],[5401,0.2],[5412,0.32],[5431,0.26],[5450,0.2],[5470,0.28],[5491,0.37],[5516,0.34],[5540,0.3],[5568,0.26],[5596,0.22],[5623,0.26],[5650,0.3],[5676,0.31],[5701,0.32],[5726,0.28],[5750,0.25],[5778,0.21],[5806,0.17],[5833,0.21],[5860,0.25],[5886,0.26],[5911,0.27],[5935,0.23],[5960,0.2],[5988,0.26],[6016,0.32],[6033,0.31],[6050,0.3],[6065,0.4],[6080,0.5],[6088,0.62],[6095,0.73],[6108,0.62],[6120,0.5],[6134,0.42],[6147,0.35],[6160,0.31],[6173,0.27],[6197,0.23],[6220,0.2],[6249,0.21],[6278,0.22],[6304,0.26],[6330,0.3],[6356,0.31],[6383,0.32],[6406,0.26],[6430,0.2],[6459,0.16],[6488,0.12],[6514,0.21],[6540,0.3],[6566,0.44],[6593,0.58],[6616,0.52],[6640,0.45],[6669,0.49],[6698,0.53],[6724,0.52],[6750,0.5],[6776,0.54],[6803,0.58],[6816,0.62],[6830,0.65],[6843,0.72],[6856,0.78],[6873,0.64],[6890,0.5],[6912,0.41],[6935,0.32],[6952,0.26],[6970,0.2],[6992,0.16],[7014,0.12],[7037,0.11],[7060,0.1],[7090,0.08],[7119,0.07],[7150,0.03],[7180,0.0],[7200,-0.08],[7220,-0.15],[7235,-0.25],[7250,-0.34],[7270,-0.22],[7290,-0.1],[7310,-0.01],[7329,0.07],[7355,0.03],[7380,0.0],[7407,-0.02],[7434,-0.04],[7462,0.0],[7490,0.05],[7515,0.03],[7539,0.02],[7565,-0.02],[7590,-0.05],[7617,-0.1],[7643,-0.14],[7667,-0.1],[7690,-0.05],[7706,-0.01],[7722,0.02],[7741,0.16],[7760,0.3],[7781,0.39],[7801,0.48],[7820,0.44],[7840,0.4],[7860,0.36],[7880,0.32],[7900,0.38],[7920,0.45],[7940,0.54],[7958,0.63],[7980,0.59],[8000,0.55],[8018,0.56],[8037,0.58],[8058,0.51],[8080,0.45],[8098,0.38],[8116,0.32],[8133,0.36],[8150,0.4],[8160,0.3],[8168,0.22],[8175,0.17]];

var pppEast = [[30,-0.6],[35,-0.5],[40,-0.39],[48,-0.44],[55,-0.5],[62,-0.6],[70,-0.7],[75,-0.73],[80,-0.75],[95,-0.72],[110,-0.7],[122,-0.75],[135,-0.8],[146,-0.8],[158,-0.8],[174,-0.85],[190,-0.9],[202,-0.93],[215,-0.95],[225,-0.96],[236,-0.96],[253,-0.92],[270,-0.88],[292,-0.85],[315,-0.83],[338,-0.86],[360,-0.9],[390,-0.92],[420,-0.93],[445,-0.92],[470,-0.9],[498,-0.9],[525,-0.9],[552,-0.93],[580,-0.95],[605,-0.96],[630,-0.96],[655,-0.94],[680,-0.92],[708,-0.91],[735,-0.9],[758,-0.88],[780,-0.87],[797,-0.86],[814,-0.85],[832,-0.84],[850,-0.83],[872,-0.83],[893,-0.83],[916,-0.85],[940,-0.86],[970,-0.87],[998,-0.88],[1024,-0.89],[1050,-0.9],[1077,-0.92],[1103,-0.93],[1127,-0.91],[1150,-0.9],[1180,-0.9],[1208,-0.9],[1234,-0.92],[1260,-0.94],[1287,-0.95],[1313,-0.96],[1340,-0.94],[1365,-0.93],[1392,-0.93],[1418,-0.93],[1440,-0.95],[1460,-0.96],[1478,-0.98],[1496,-1.01],[1503,-0.98],[1510,-0.95],[1517,-1.1],[1523,-1.22],[1529,-1.1],[1535,-1.0],[1542,-0.92],[1549,-0.85],[1556,-0.68],[1562,-0.5],[1568,-0.3],[1575,-0.14],[1588,-0.07],[1600,0.0],[1614,0.04],[1628,0.07],[1642,0.11],[1655,0.15],[1668,0.18],[1680,0.22],[1692,0.3],[1705,0.4],[1719,0.5],[1733,0.58],[1746,0.7],[1760,0.8],[1772,0.92],[1785,1.04],[1798,0.88],[1811,0.73],[1826,0.8],[1840,0.85],[1852,0.9],[1864,0.94],[1877,0.82],[1890,0.7],[1903,0.66],[1916,0.63],[1930,0.72],[1945,0.8],[1957,0.82],[1969,0.83],[1982,0.79],[1995,0.75],[2008,0.85],[2021,0.94],[2036,0.82],[2050,0.7],[2062,0.6],[2074,0.48],[2087,0.56],[2100,0.65],[2113,0.69],[2126,0.73],[2133,0.9],[2140,1.1],[2147,1.3],[2153,1.45],[2166,1.32],[2180,1.2],[2192,1.14],[2205,1.09],[2218,1.0],[2230,0.9],[2244,0.84],[2258,0.78],[2272,0.89],[2285,1.0],[2298,1.14],[2310,1.27],[2323,1.2],[2335,1.15],[2349,1.1],[2363,1.04],[2382,1.1],[2400,1.15],[2420,1.2],[2441,1.24],[2460,1.17],[2480,1.1],[2500,1.12],[2520,1.14],[2535,1.2],[2550,1.25],[2562,1.3],[2573,1.35],[2587,1.32],[2600,1.3],[2612,1.42],[2625,1.55],[2638,1.38],[2650,1.2],[2664,1.15],[2678,1.09],[2694,1.12],[2709,1.14],[2722,1.05],[2735,0.95],[2746,0.97],[2756,0.99],[2772,0.88],[2788,0.78],[2804,0.72],[2820,0.65],[2830,0.62],[2840,0.6],[2853,0.56],[2866,0.53],[2883,0.62],[2900,0.7],[2922,0.74],[2945,0.78],[2968,0.8],[2990,0.82],[3007,0.84],[3024,0.86],[3042,0.83],[3060,0.8],[3082,0.76],[3103,0.73],[3122,0.79],[3140,0.85],[3160,0.9],[3181,0.94],[3200,0.87],[3220,0.8],[3240,0.76],[3260,0.73],[3280,0.74],[3300,0.75],[3320,0.77],[3339,0.78],[3360,0.74],[3380,0.7],[3399,0.66],[3418,0.63],[3434,0.59],[3450,0.55],[3460,0.5],[3470,0.45],[3483,0.38],[3496,0.32],[3508,0.2],[3520,0.1],[3535,-0.05],[3549,-0.19],[3562,-0.05],[3575,0.1],[3588,0.16],[3601,0.22],[3620,0.18],[3640,0.15],[3660,0.11],[3680,0.07],[3700,0.14],[3720,0.2],[3740,0.21],[3759,0.22],[3780,0.26],[3800,0.3],[3819,0.33],[3838,0.35],[3859,0.28],[3880,0.2],[3898,0.13],[3917,0.07],[3938,0.11],[3960,0.15],[3978,0.19],[3995,0.22],[4012,0.16],[4030,0.1],[4052,-0.02],[4074,-0.14],[4092,-0.05],[4110,0.05],[4132,0.11],[4153,0.17],[4172,0.11],[4190,0.05],[4210,-0.02],[4231,-0.09],[4246,-0.07],[4260,-0.05],[4272,-0.12],[4284,-0.19],[4292,-0.27],[4300,-0.35],[4305,-0.48],[4310,-0.6],[4322,-0.5],[4335,-0.4],[4349,-0.37],[4363,-0.34],[4376,-0.52],[4390,-0.7],[4402,-0.83],[4415,-0.96],[4428,-0.97],[4440,-0.98],[4454,-1.0],[4468,-1.01],[4482,-1.05],[4495,-1.08],[4508,-1.12],[4520,-1.16],[4532,-1.13],[4545,-1.1],[4559,-1.08],[4573,-1.06],[4592,-1.0],[4610,-0.95],[4630,-0.9],[4652,-0.85],[4658,-0.78],[4665,-0.7],[4672,-0.62],[4678,-0.55],[4689,-0.48],[4700,-0.4],[4715,-0.34],[4730,-0.29],[4750,-0.24],[4770,-0.2],[4790,-0.17],[4809,-0.14],[4835,-0.13],[4860,-0.12],[4887,-0.1],[4914,-0.09],[4940,-0.07],[4967,-0.06],[4993,-0.05],[5019,-0.04],[5045,-0.02],[5070,0.0],[5097,0.04],[5124,0.07],[5137,0.09],[5150,0.1],[5163,0.11],[5176,0.12],[5188,0.04],[5200,-0.05],[5215,-0.15],[5229,-0.24],[5250,-0.25],[5270,-0.26],[5289,-0.28],[5308,-0.29],[5329,-0.25],[5350,-0.22],[5368,-0.2],[5386,-0.19],[5408,-0.21],[5430,-0.22],[5448,-0.23],[5465,-0.24],[5478,-0.24],[5491,-0.24],[5516,-0.25],[5540,-0.26],[5568,-0.28],[5596,-0.29],[5623,-0.31],[5650,-0.33],[5676,-0.36],[5701,-0.39],[5726,-0.38],[5750,-0.37],[5778,-0.36],[5806,-0.34],[5833,-0.32],[5860,-0.3],[5886,-0.3],[5911,-0.29],[5931,-0.27],[5950,-0.25],[5970,-0.22],[5990,-0.19],[6005,-0.15],[6020,-0.1],[6031,-0.02],[6042,0.07],[6054,0.22],[6065,0.4],[6072,0.6],[6080,0.8],[6088,1.0],[6095,1.19],[6108,1.05],[6120,0.9],[6134,0.79],[6147,0.68],[6168,0.62],[6190,0.55],[6208,0.52],[6226,0.48],[6248,0.44],[6270,0.4],[6288,0.36],[6305,0.32],[6320,0.41],[6335,0.5],[6346,0.64],[6357,0.78],[6368,0.66],[6380,0.55],[6395,0.48],[6410,0.4],[6423,0.36],[6436,0.32],[6455,0.3],[6475,0.28],[6495,0.25],[6515,0.22],[6532,0.26],[6550,0.3],[6572,0.34],[6593,0.37],[6612,0.4],[6630,0.42],[6651,0.45],[6672,0.48],[6691,0.47],[6710,0.45],[6730,0.44],[6751,0.43],[6770,0.4],[6790,0.38],[6810,0.35],[6830,0.32],[6845,0.22],[6860,0.1],[6872,-0.02],[6883,-0.14],[6889,-0.32],[6895,-0.5],[6902,-0.68],[6909,-0.85],[6922,-0.68],[6935,-0.5],[6948,-0.4],[6961,-0.29],[6980,-0.26],[7000,-0.22],[7020,-0.2],[7040,-0.19],[7060,-0.17],[7080,-0.15],[7100,-0.14],[7119,-0.14],[7140,-0.17],[7160,-0.2],[7179,-0.22],[7198,-0.24],[7220,-0.22],[7240,-0.2],[7258,-0.2],[7276,-0.19],[7298,-0.15],[7320,-0.1],[7338,-0.07],[7355,-0.04],[7375,-0.12],[7395,-0.2],[7415,-0.3],[7434,-0.39],[7452,-0.32],[7470,-0.25],[7491,-0.22],[7512,-0.19],[7531,-0.15],[7550,-0.1],[7570,-0.07],[7591,-0.04],[7610,-0.02],[7630,0.0],[7650,0.04],[7670,0.07],[7677,0.33],[7683,0.6],[7690,0.9],[7696,1.19],[7708,1.07],[7720,0.95],[7734,0.86],[7748,0.78],[7769,0.82],[7790,0.85],[7808,0.9],[7827,0.94],[7846,0.85],[7865,0.75],[7885,0.69],[7906,0.63],[7918,0.79],[7930,0.95],[7944,1.12],[7958,1.29],[7972,1.12],[7985,0.95],[7998,0.84],[8011,0.73],[8026,0.77],[8040,0.8],[8052,0.85],[8063,0.89],[8077,0.85],[8090,0.8],[8103,0.77],[8116,0.73],[8128,0.86],[8140,1.0],[8149,1.25],[8158,1.5],[8164,1.42],[8170,1.35],[8178,1.2]];

function init() {
    var w = 628;
    var h = 1007;
    var left = 89.5, right = 609;

    // PVT series = held value, live part, held value, live part
    function withHold(hold, part1, part2) {
        return holdEpochs1.map(function(t) { return [t, hold[0]]; })
            .concat(part1)
            .concat(holdEpochs2.map(function(t) { return [t, hold[1]]; }))
            .concat(part2);
    }

    var pvtData = [
        withHold(pvtUpHold, pvtUp1, pvtUp2),
        withHold(pvtNorthHold, pvtNorth1, pvtNorth2),
        withHold(pvtEastHold, pvtEast1, pvtEast2)
    ];
    var pppData = [pppUp, pppNorth, pppEast];

    var svg = d3.select("#chart")
                .append("svg")
                .attr("width", w)
                .attr("height", h);

    svg.append("rect").attr("width", w).attr("height", h).attr("fill", "#fff");

    //the 1 Hz PPP traces are dense enough to read as a thick band
    drawPanel(svg, "pvt", "PVT", pvtData, [-18.77, 15.0], pvtYTicks, 57, 442, 35, 498, 248, false, 3.2, 2);
    drawPanel(svg, "ppp", "Smart-PPP", pppData, [-3.94, 1.985], pppYTicks, 562, 947, 540, 1003, 755, true, 3.9, 3);

    function drawPanel(svg, id, title, data, yDomain, yTicks, top, bottom, titleY, xLabelY, yLabelY, legend, dotR, lineW) {
        var xScale = d3.scaleLinear()
                       .domain([29, 8188])
                       .range([left, right]);

        var yScale = d3.scaleLinear()
                       .domain(yDomain)
                       .range([bottom, top]);

        //grid + tick labels (plain hyphen for negatives, like the original)
        var xAxis = d3.axisBottom()
                      .scale(xScale)
                      .tickValues(xTicks)
                      .tickSizeInner(-(bottom - top))
                      .tickSizeOuter(0)
                      .tickPadding(10)
                      .tickFormat(function(d) { return String(d); });

        var yAxis = d3.axisLeft()
                      .scale(yScale)
                      .tickValues(yTicks)
                      .tickSizeInner(-(right - left))
                      .tickSizeOuter(0)
                      .tickPadding(5)
                      .tickFormat(function(d) { return String(d); });

        svg.append("g")
            .attr("class", "axis")
            .attr("transform", "translate(0," + bottom + ")")
            .call(xAxis);

        svg.append("g")
            .attr("class", "axis")
            .attr("transform", "translate(" + left + ",0)")
            .call(yAxis);

        svg.append("clipPath")
            .attr("id", "clip-" + id)
            .append("rect")
            .attr("x", left)
            .attr("y", top)
            .attr("width", right - left)
            .attr("height", bottom - top);

        var plot = svg.append("g").attr("clip-path", "url(#clip-" + id + ")");

        var line = d3.line()
                     .x(function(d) { return xScale(d[0]); })
                     .y(function(d) { return yScale(d[1]); });

        data.forEach(function(series, i) {
            var g = plot.append("g");
            g.append("path")
                .datum(series)
                .attr("fill", "none")
                .attr("stroke", seriesColors[i])
                .attr("stroke-width", lineW)
                .attr("stroke-linejoin", "round")
                .attr("d", line);
            g.selectAll("circle")
                .data(series)
                .enter()
                .append("circle")
                .attr("cx", function(d) { return xScale(d[0]); })
                .attr("cy", function(d) { return yScale(d[1]); })
                .attr("r", dotR)
                .attr("fill", seriesColors[i]);
        });

        //box
        svg.append("rect")
            .attr("x", left)
            .attr("y", top)
            .attr("width", right - left)
            .attr("height", bottom - top)
            .attr("fill", "none")
            .attr("stroke", "#000")
            .attr("stroke-width", 1.2);

        var cx = (left + right) / 2;
        svg.append("text")
            .attr("x", cx)
            .attr("y", titleY)
            .attr("text-anchor", "middle")
            .style("font-size", "25px")
            .text(title);

        svg.append("text")
            .attr("x", cx)
            .attr("y", xLabelY)
            .attr("text-anchor", "middle")
            .style("font-size", "25px")
            .text("Epoch (s)");

        svg.append("text")
            .attr("transform", "translate(31," + yLabelY + ") rotate(-90)")
            .attr("text-anchor", "middle")
            .style("font-size", "25px")
            .text("Errors (m)");

        if (legend) {
            var lg = svg.append("g").attr("transform", "translate(464,831)");
            lg.append("rect")
                .attr("width", 137)
                .attr("height", 108)
                .attr("fill", "#fff")
                .attr("stroke", "#000")
                .attr("stroke-width", 1.2);
            seriesNames.forEach(function(name, i) {
                var y = 19 + i * 35;
                lg.append("line")
                    .attr("x1", 10).attr("x2", 61)
                    .attr("y1", y).attr("y2", y)
                    .attr("stroke", seriesColors[i])
                    .attr("stroke-width", 1.2);
                lg.append("circle")
                    .attr("cx", 36).attr("cy", y)
                    .attr("r", 2.6)
                    .attr("fill", seriesColors[i]);
                lg.append("text")
                    .attr("x", 67)
                    .attr("y", y + 10)
                    .style("font-size", "25px")
                    .text(name);
            });
        }
    }
}
window.onload = init;
</script>
</body>
</html>
